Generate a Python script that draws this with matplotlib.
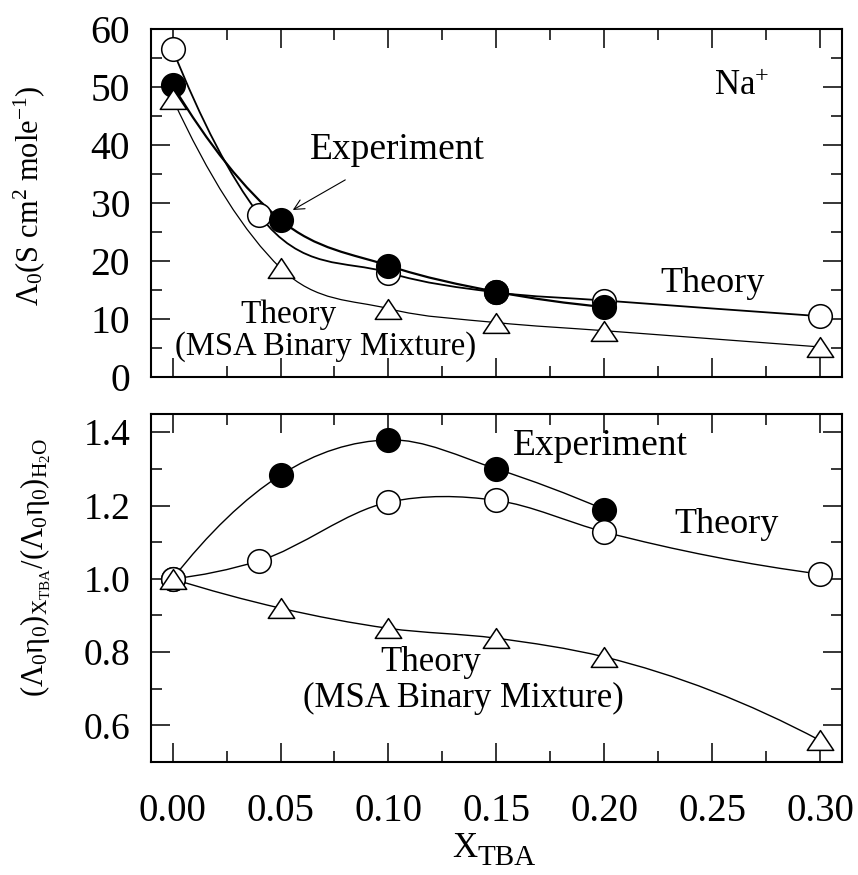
import matplotlib
matplotlib.use("Agg")
import matplotlib.pyplot as plt
import numpy as np
from matplotlib.path import Path
from matplotlib.patches import PathPatch
from matplotlib.ticker import MultipleLocator, FormatStrFormatter

plt.rcParams['font.family'] = ['Liberation Serif', 'DejaVu Serif']
plt.rcParams['mathtext.fontset'] = 'custom'
plt.rcParams['mathtext.rm'] = 'Liberation Serif'
plt.rcParams['mathtext.it'] = 'Liberation Serif:italic'

# limiting conductance of Na+ in water-TBA mixtures
x_exp = [0.00, 0.05, 0.10, 0.15, 0.20]
lam_exp = [50.3, 27.1, 19.2, 14.7, 12.1]
x_th = [0.00, 0.04, 0.10, 0.15, 0.20, 0.30]
lam_th = [56.5, 28.0, 18.0, 14.6, 13.2, 10.5]
x_msa = [0.00, 0.05, 0.10, 0.15, 0.20, 0.30]
lam_msa = [48.0, 18.8, 11.8, 9.4, 8.0, 5.2]

# Walden product relative to pure water
ratio_exp = [1.000, 1.283, 1.379, 1.300, 1.189]
ratio_th = [1.000, 1.049, 1.209, 1.214, 1.128, 1.013]
ratio_msa = [1.000, 0.920, 0.865, 0.838, 0.787, 0.559]

x_ticks = [0.00, 0.05, 0.10, 0.15, 0.20, 0.25, 0.30]


def smooth_path(x, y):
    # cubic hermite through the points, written as bezier segments
    x = np.asarray(x, float)
    y = np.asarray(y, float)
    h = np.diff(x)
    s = np.diff(y) / h
    d = np.empty_like(y)
    d[1:-1] = (h[:-1] * s[1:] + h[1:] * s[:-1]) / (h[:-1] + h[1:])
    d[0] = 2 * s[0] - d[1]
    d[-1] = 2 * s[-1] - d[-2]
    verts = [(x[0], y[0])]
    for i in range(len(h)):
        verts.append((x[i] + h[i] / 3, y[i] + d[i] * h[i] / 3))
        verts.append((x[i + 1] - h[i] / 3, y[i + 1] - d[i + 1] * h[i] / 3))
        verts.append((x[i + 1], y[i + 1]))
    codes = [Path.MOVETO] + [Path.CURVE4] * (3 * len(h))
    return Path(verts, codes)


def curve(ax, x, y, lw, z):
    ax.add_patch(PathPatch(smooth_path(x, y), fc='none', ec='black',
                           lw=lw, zorder=z, transform=ax.transData))


tri = Path([(-1, -0.75), (1, -0.75), (0, 0.75), (-1, -0.75)],
           [Path.MOVETO, Path.LINETO, Path.LINETO, Path.CLOSEPOLY])


def style_axes(ax, ysize):
    ax.set_xlim(-0.01, 0.31)
    ax.set_xticks(x_ticks)
    ax.xaxis.set_minor_locator(MultipleLocator(0.025))
    ax.tick_params(which='both', direction='in', top=True, right=True,
                   width=1.1)
    ax.tick_params(which='major', length=14)
    ax.tick_params(which='minor', length=8)
    ax.tick_params(axis='y', labelsize=ysize, pad=15)
    ax.tick_params(axis='x', labelsize=28, pad=22)
    for sp in ax.spines.values():
        sp.set_linewidth(1.5)


fig = plt.figure(figsize=(8.58, 8.75), dpi=100)
ax1 = fig.add_axes([0.176, 0.569, 0.805, 0.398])
ax2 = fig.add_axes([0.176, 0.129, 0.805, 0.398])

# upper panel
curve(ax1, x_th, lam_th, 1.3, 2)
curve(ax1, x_msa, lam_msa, 0.9, 2)
curve(ax1, x_exp, lam_exp, 1.6, 2)
ax1.plot(x_th, lam_th, 'o', ms=17, mfc='white', mec='black', mew=1.1,
         ls='none', zorder=3)
ax1.plot(x_exp, lam_exp, 'o', ms=17, mfc='black', mec='black', mew=1.1,
         ls='none', zorder=4)
ax1.plot(x_msa, lam_msa, marker=tri, ms=19, mfc='white', mec='black',
         mew=1.1, ls='none', zorder=5)
ax1.set_ylim(0, 60)
ax1.yaxis.set_major_locator(MultipleLocator(10))
ax1.yaxis.set_minor_locator(MultipleLocator(5))
style_axes(ax1, 28.5)
ax1.tick_params(axis='x', labelbottom=False)
ax1.set_ylabel(r'Λ$_0$(S cm$^2$ mole$^{\mathrm{-1}}$)', fontsize=22)
ax1.yaxis.set_label_coords(-0.150, 0.522)

ax1.text(0.2635, 50, r'Na$^{\mathrm{+}}$', fontsize=25, ha='center',
         va='center')
ax1.annotate('Experiment', xy=(0.0557, 28.8), xytext=(0.104, 39.1),
             fontsize=27, ha='center', va='center',
             arrowprops=dict(arrowstyle='->', lw=0.8, color='black',
                             shrinkA=14, shrinkB=0, mutation_scale=18))
ax1.text(0.25, 16.2, 'Theory', fontsize=26, ha='center', va='center')
ax1.text(0.0538, 10.7, 'Theory', fontsize=24, ha='center', va='center')
ax1.text(0.071, 5.2, '(MSA Binary Mixture)', fontsize=23.5, ha='center',
         va='center')

# lower panel
curve(ax2, x_exp, ratio_exp, 1.0, 2)
curve(ax2, x_th, ratio_th, 1.0, 2)
curve(ax2, x_msa, ratio_msa, 1.0, 2)
ax2.plot(x_exp, ratio_exp, 'o', ms=17, mfc='black', mec='black', mew=1.1,
         ls='none', zorder=3)
ax2.plot(x_th, ratio_th, 'o', ms=17, mfc='white', mec='black', mew=1.1,
         ls='none', zorder=4)
ax2.plot(x_msa, ratio_msa, marker=tri, ms=19, mfc='white', mec='black',
         mew=1.1, ls='none', zorder=5)
ax2.set_ylim(0.5, 1.45)
ax2.yaxis.set_major_locator(MultipleLocator(0.2))
ax2.yaxis.set_minor_locator(MultipleLocator(0.1))
ax2.yaxis.set_major_formatter(FormatStrFormatter('%.1f'))
ax2.xaxis.set_major_formatter(FormatStrFormatter('%.2f'))
style_axes(ax2, 27)
ax2.set_ylabel(r'(Λ$_0$η$_0$)$_{\mathrm{X_{TBA}}}$/(Λ$_0$η$_0$)$_{\mathrm{H_2O}}$',
               fontsize=22)
ax2.yaxis.set_label_coords(-0.142, 0.559)

# axis title with an enlarged subscript
fig.text(477 / 858, 0.0206, 'X', fontsize=25, ha='right', va='baseline')
fig.text(477 / 858, 0.0114, 'TBA', fontsize=21, ha='left', va='baseline')

ax2.text(0.198, 1.362, 'Experiment', fontsize=27, ha='center', va='center')
ax2.text(0.2565, 1.148, 'Theory', fontsize=26, ha='center', va='center')
ax2.text(0.1197, 0.773, 'Theory', fontsize=25, ha='center', va='center')
ax2.text(0.1345, 0.674, '(MSA Binary Mixture)', fontsize=25, ha='center',
         va='center')

fig.savefig('out.png', dpi=100)
